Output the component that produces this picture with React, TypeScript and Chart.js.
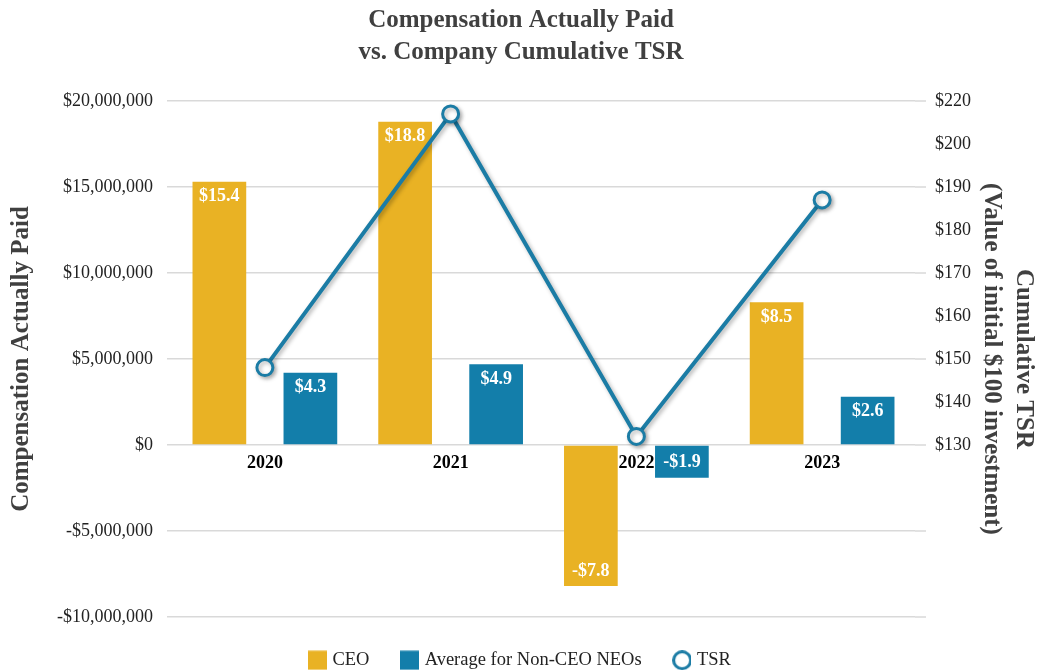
import React, { useEffect, useRef } from "react";
import { Chart, registerables } from "chart.js";

Chart.register(...registerables);

const years = ["2020", "2021", "2022", "2023"];
const ceoValues = [15.3, 18.8, -8.2, 8.3]; // $ millions
const neoValues = [4.2, 4.7, -1.9, 2.8]; // $ millions
const ceoLabels = ["$15.4", "$18.8", "-$7.8", "$8.5"];
const neoLabels = ["$4.3", "$4.9", "-$1.9", "$2.6"];
const tsrValues = [148, 207, 132, 187];
const leftTicks = [-10000000, -5000000, 0, 5000000, 10000000, 15000000, 20000000];
const rightTickValues = [130, 140, 150, 160, 170, 180, 190, 200, 210];
const rightTickLabels = ["$130", "$140", "$150", "$160", "$170", "$180", "$190", "$200", "$220"];

const GOLD = "#E9B224";
const BLUE = "#137EAA";
const LINE = "#1B7CA5";
const GRID = "#d9d9d9";
const SERIF = "'Liberation Serif', 'Times New Roman', serif";

function legendIcon(kind: "rect" | "circle", color: string) {
  const c = document.createElement("canvas");
  c.width = 19;
  c.height = 20;
  const g = c.getContext("2d")!;
  if (kind === "rect") {
    g.fillStyle = color;
    g.fillRect(0, 0.5, 19, 19);
  } else {
    g.beginPath();
    g.arc(10, 10, 8.5, 0, Math.PI * 2);
    g.fillStyle = "#fff";
    g.fill();
    g.lineWidth = 3;
    g.strokeStyle = color;
    g.stroke();
  }
  return c;
}

function fmtMoney(v: number) {
  const s = Math.abs(v).toLocaleString("en-US");
  return (v < 0 ? "-$" : "$") + s;
}

export default function App() {
  const ref = useRef<HTMLCanvasElement | null>(null);
  useEffect(() => {
    document.body.style.margin = "0";
    const icons = [legendIcon("rect", GOLD), legendIcon("rect", BLUE), legendIcon("circle", LINE)];
    const barLabelPlugin = {
      id: "barLabels",
      afterDatasetsDraw(chart: any) {
        const ctx = chart.ctx;
        ctx.save();
        ctx.font = `bold 18px ${SERIF}`;
        ctx.fillStyle = "#ffffff";
        ctx.textAlign = "center";
        ctx.textBaseline = "middle";
        [ceoLabels, neoLabels].forEach((labels, di) => {
          const meta = chart.getDatasetMeta(di);
          meta.data.forEach((el: any, i: number) => {
            const v = chart.data.datasets[di].data[i] as number;
            const y = v >= 0 ? el.y + 15 : el.y - 15;
            ctx.fillText(labels[i], el.x, y);
          });
        });
        ctx.restore();
      },
    };
    const gridExtPlugin = {
      id: "gridExt",
      beforeDatasetsDraw(chart: any) {
        const { ctx, chartArea } = chart;
        const ys = chart.scales.y;
        ctx.save();
        ctx.strokeStyle = GRID;
        ctx.lineWidth = 1.5;
        ys.ticks.forEach((t: any) => {
          const py = ys.getPixelForValue(t.value);
          ctx.beginPath();
          ctx.moveTo(chartArea.right, py);
          ctx.lineTo(chartArea.right + 11, py);
          ctx.stroke();
        });
        ctx.restore();
      },
    };
    const shadowPlugin = {
      id: "lineShadow",
      beforeDatasetDraw(chart: any, args: any) {
        if (args.index === 2) {
          const ctx = chart.ctx;
          ctx.save();
          ctx.shadowColor = "rgba(0,0,0,0.3)";
          ctx.shadowBlur = 4;
          ctx.shadowOffsetX = 2;
          ctx.shadowOffsetY = 2;
        }
      },
      afterDatasetDraw(chart: any, args: any) {
        if (args.index === 2) chart.ctx.restore();
      },
    };
    const chart = new Chart(ref.current!, {
      type: "bar",
      data: {
        labels: years,
        datasets: [
          {
            label: "CEO",
            data: ceoValues.map((v) => v * 1000000),
            backgroundColor: GOLD,
            yAxisID: "y",
            order: 2,
            categoryPercentage: 0.98,
            barPercentage: 0.59,
          },
          {
            label: "Average for Non-CEO NEOs",
            data: neoValues.map((v) => v * 1000000),
            backgroundColor: BLUE,
            yAxisID: "y",
            order: 2,
            categoryPercentage: 0.98,
            barPercentage: 0.59,
          },
          {
            type: "line",
            label: "TSR",
            data: tsrValues,
            yAxisID: "y1",
            borderColor: LINE,
            borderWidth: 4,
            pointRadius: 8,
            pointBorderWidth: 3,
            pointBackgroundColor: "#ffffff",
            pointBorderColor: LINE,
            order: 0,
          } as any,
        ],
      },
      options: {
        animation: false,
        responsive: false,
        layout: { padding: { left: 0, right: 0, top: 0, bottom: -8.5 } },
        plugins: {
          title: {
            display: true,
            text: ["Compensation Actually Paid", "vs. Company Cumulative TSR"],
            color: "#404040",
            font: { family: SERIF, size: 25, weight: "bold", lineHeight: 1.3 },
            padding: { top: 4, bottom: 32 },
          },
          legend: {
            position: "bottom",
            labels: {
              usePointStyle: true,
              pointStyleWidth: 12,
              boxHeight: 18,
              padding: 34,
              color: "#222",
              font: { family: SERIF, size: 18.5 },
              generateLabels: (chart: any) =>
                chart.data.datasets.map((ds: any, i: number) => ({
                  text: ds.label,
                  pointStyle: icons[i],
                  fillStyle: "transparent",
                  strokeStyle: "transparent",
                  lineWidth: 0,
                  hidden: false,
                  datasetIndex: i,
                  fontColor: "#222",
                })),
            },
          },
          tooltip: { enabled: false },
        },
        scales: {
          x: {
            position: { y: 0 } as any,
            offset: true,
            grid: { display: false },
            border: { display: false },
            ticks: { color: "#000", font: { family: SERIF, size: 18, weight: "bold" }, padding: 0 },
          },
          y: {
            position: "left",
            min: -10000000,
            max: 20000000,
            afterBuildTicks: (s: any) => {
              s.ticks = leftTicks.map((v) => ({ value: v }));
            },
            afterFit: (s: any) => {
              s.width = 172;
            },
            grid: { color: GRID, lineWidth: 1.5, tickLength: 5 },
            border: { display: false },
            ticks: {
              color: "#222",
              padding: 14,
              font: { family: SERIF, size: 18 },
              callback: (v: any) => fmtMoney(Number(v)),
            },
            title: {
              display: true,
              text: "Compensation Actually Paid",
              color: "#404040",
              font: { family: SERIF, size: 25, weight: "bold", lineHeight: 1.2 },
              padding: { top: 7, bottom: 0 },
            },
          },
          y1: {
            position: "right",
            min: 90,
            max: 210,
            afterBuildTicks: (s: any) => {
              s.ticks = rightTickValues.map((v) => ({ value: v }));
            },
            afterFit: (s: any) => {
              s.width = 127;
            },
            grid: { display: false },
            border: { display: false },
            ticks: {
              color: "#222",
              padding: 12,
              font: { family: SERIF, size: 18 },
              callback: (v: any) => rightTickLabels[rightTickValues.indexOf(Number(v))] ?? "",
            },
            title: {
              display: true,
              text: ["Cumulative TSR", "(Value of initial $100 investment)"],
              color: "#404040",
              font: { family: SERIF, size: 25, weight: "bold", lineHeight: 1.3 },
              padding: { top: 2, bottom: 0 },
            },
          },
        },
      },
      plugins: [barLabelPlugin, gridExtPlugin, shadowPlugin],
    } as any);
    return () => chart.destroy();
  }, []);
  return (
    <div style={{ width: 1042, height: 671, background: "#fff" }}>
      <canvas ref={ref} width={1042} height={671} style={{ display: "block" }} />
    </div>
  );
}
